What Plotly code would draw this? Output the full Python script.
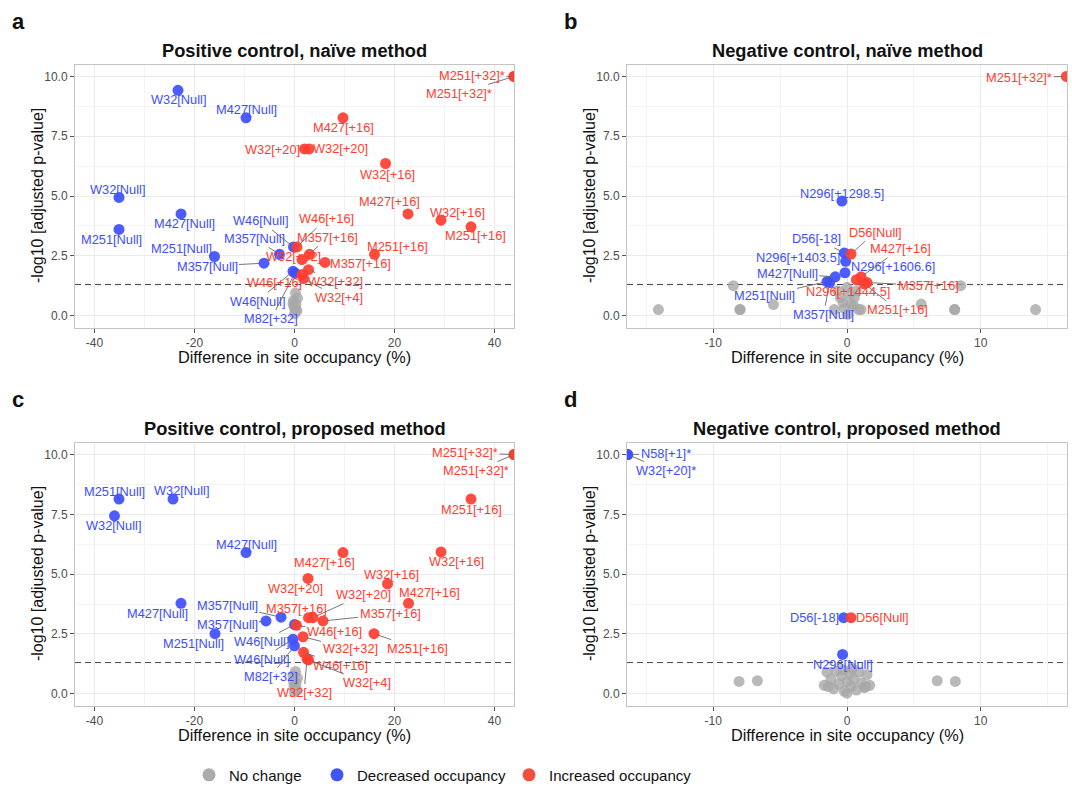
import plotly.graph_objects as go

W, H = 1072, 792

# ---------------- DATA ----------------
# Panel a: Positive control, naive method
a_gray_x = [0.2, 0.6, -0.2, 0.3, -0.1, 0.2, 0.5, -0.3, 0.0]
a_gray_y = [0.95, 0.72, 0.62, 0.45, 0.35, 0.25, 0.2, 0.5, 0.08]
a_lab = ["W32[Null]", "M427[Null]", "W32[Null]", "M427[Null]", "M251[Null]", "M251[Null]",
         "M357[Null]", "M357[Null]", "W46[Null]", "W46[Null]", "M82[+32]",
         "M251[+32]*", "M251[+32]*", "M427[+16]", "W32[+20]", "W32[+20]", "W32[+16]",
         "M427[+16]", "W32[+16]", "M251[+16]", "M251[+16]", "M357[+16]", "M357[+16]",
         "W46[+16]", "W32[+32]", "W32[+32]", "W46[+16]", "W32[+4]"]
a_x = [-23.3, -9.7, -35.1, -22.7, -35.1, -16.0, -6.1, -3.0, -0.2, -0.3, 0.1,
       43.9, 43.9, 9.7, 2.0, 2.9, 18.2, 22.7, 29.3, 35.3, 16.0, 6.1, 3.0,
       0.5, 1.5, 2.8, 1.5, 1.8]
a_y = [9.42, 8.27, 4.94, 4.25, 3.60, 2.47, 2.19, 2.56, 2.87, 1.85, 1.78,
       10.0, 10.0, 8.27, 6.97, 6.97, 6.36, 4.25, 3.99, 3.71, 2.56, 2.22, 2.56,
       2.87, 2.34, 1.92, 1.72, 1.55]
a_dir = ["D", "D", "D", "D", "D", "D", "D", "D", "D", "D", "D",
         "I", "I", "I", "I", "I", "I", "I", "I", "I", "I", "I", "I",
         "I", "I", "I", "I", "I"]

# Panel b: Negative control, naive method
b_gray_x = [-14.1, -8.5, -8.0, -8.0, -5.5, 5.55, 8.05, 8.05, 8.5, 14.1, -0.7, 0.0,
            0.55, 1.05, 0.05, -0.95, -0.3, 0.3, 0.7, 0.87, -0.5, 0.2, -0.2, 0.5]
b_gray_y = [0.25, 1.25, 0.25, 0.25, 0.46, 0.48, 0.25, 0.25, 1.25, 0.25, 1.04, 1.18,
            0.76, 0.25, 0.05, 0.25, 0.55, 0.48, 1.04, 0.25, 0.75, 0.9, 0.3, 0.4]
b_lab = ["N296[+1298.5]", "D56[-18]", "N296[+1403.5]", "N296[+1606.6]", "M427[Null]",
         "M251[Null]", "M357[Null]",
         "M251[+32]*", "D56[Null]", "M427[+16]", "N296[+1444.5]", "M357[+16]", "M251[+16]"]
b_x = [-0.38, -0.2, -0.1, -0.15, -0.88, -1.5, -1.3, 16.4, 0.3, 1.05, 0.7, 1.5, 1.3]
b_y = [4.79, 2.62, 2.27, 1.79, 1.62, 1.42, 1.38, 10.0, 2.57, 1.62, 1.5, 1.38, 1.33]
b_dir = ["D", "D", "D", "D", "D", "D", "D", "I", "I", "I", "I", "I", "I"]

# Panel c: Positive control, proposed method
c_gray_x = [0.2, 0.6, -0.2, 0.3, -0.1, 0.2, 0.5, 0.0, -0.3]
c_gray_y = [0.93, 0.65, 0.5, 0.44, 0.3, 0.23, 0.15, 0.08, 0.75]
c_lab = ["M251[Null]", "W32[Null]", "W32[Null]", "M427[Null]", "M427[Null]", "M357[Null]",
         "M357[Null]", "M251[Null]", "W46[Null]", "W46[Null]", "M82[+32]",
         "M251[+32]*", "M251[+32]*", "M251[+16]", "M427[+16]", "W32[+16]", "W32[+20]",
         "W32[+16]", "M427[+16]", "M251[+16]", "M357[+16]", "W32[+20]", "M357[+16]",
         "W46[+16]", "W32[+32]", "W46[+16]", "W32[+4]", "W32[+32]"]
c_x = [-35.1, -24.3, -36.0, -9.7, -22.7, -5.7, -2.7, -15.9, 0.0, -0.3, 0.0,
       43.9, 43.9, 35.3, 9.7, 29.3, 2.7, 18.6, 22.8, 15.9, 2.8, 3.7, 5.7,
       0.4, 1.7, 1.8, 2.8, 2.5]
c_y = [8.14, 8.14, 7.44, 5.9, 3.78, 3.04, 3.2, 2.51, 2.89, 2.28, 2.0,
       10.0, 10.0, 8.14, 5.9, 5.93, 4.82, 4.59, 3.78, 2.51, 3.18, 3.18, 3.04,
       2.86, 2.38, 1.73, 1.41, 1.45]
c_dir = ["D", "D", "D", "D", "D", "D", "D", "D", "D", "D", "D",
         "I", "I", "I", "I", "I", "I", "I", "I", "I", "I", "I", "I",
         "I", "I", "I", "I", "I"]

# Panel d: Negative control, proposed method
d_gray_x = [-8.07, -6.7, 6.75, 8.1, -1.7, -1.5, -1.2, -1.0, -0.8, -0.6, -0.4, -0.2, 0.0,
            0.0, 0.2, 0.3, 0.5, 0.7, 0.9, 1.1, 1.3, 1.5, 1.7, -0.3, 0.4, -1.4, 1.4]
d_gray_y = [0.51, 0.54, 0.54, 0.51, 0.35, 0.9, 0.6, 0.2, 0.95, 0.4, 0.75, 0.1, 0.5,
            0.02, 0.85, 0.3, 0.6, 0.15, 0.9, 0.45, 0.25, 0.8, 0.35, 1.0, 1.05, 0.3, 0.3]
d_lab = ["N58[+1]*", "W32[+20]*", "D56[-18]", "N296[Null]", "D56[Null]"]
d_x = [-16.4, -16.4, -0.25, -0.33, 0.3]
d_y = [10.0, 10.0, 3.18, 1.64, 3.18]
d_dir = ["D", "D", "D", "D", "I"]

# Tick labels / axis settings
y_ticks = [0.0, 2.5, 5.0, 7.5, 10.0]
x_ticks_pos = [-40, -20, 0, 20, 40]
x_ticks_neg = [-10, 0, 10]
sig_line = 1.3  # -log10(0.05)

# ---------------- LABEL OFFSETS (pixels, label centre relative to point) ----------------
a_dx = [0, 0, -2, 3, -8, -33, -57, -25, -33, -36, -24,
        -42, -55, 0, -32, 31, 2, -19, 16, 4, 23, 35, 18, 29, -9, 27, -28, 35]
a_dy = [9, -8, -8, 10, 10, -8, 3, -16, -26, 30, 46,
        -1, 17, 10, 1, 0, 11, -12, -8, 9, -8, 1, -17, -28, -3, 12, 8, 19]
b_dx = [0, -28, -48, 48, -48, -62, -6, -47, 24, 39, -8, 61, 33]
b_dy = [-8, -14, -4, -6, -3, 14, 32, 1, -22, -28, 12, 3, 26]
c_dx = [-5, 8, -1, 0, -24, -39, -54, -22, -33, -32, -24,
        -49, -38, 0, -19, 15, -13, 4, 21, 43, -12, 50, 67, 38, 47, 37, 58, -3]
c_dy = [-8, -9, 10, -8, 10, 4, -12, 10, 17, 20, 31,
        -2, 16, 10, 10, 10, 10, -9, -11, 15, -9, -23, -7, 6, 12, 13, 23, 34]
d_dx = [38, 38, -29, 0, 31]
d_dy = [-1, 16, 0, 10, 0]

# ---------------- STYLE ----------------
FONT = "Liberation Sans, Arial, Helvetica, sans-serif"
COL = {"N": "#A8A8A8", "D": "#3D4EFF", "I": "#FF3D30"}
LEG_COL = {"N": "#ABABAB", "D": "#3F55F5", "I": "#F2503E"}


def px2x(p):
    return p / W


def py2y(p):
    return 1 - p / H


panels = [
    dict(letter="a", title="Positive control, naïve method", xr=[-43.9, 43.9], xt=x_ticks_pos,
         minor=10, gx=a_gray_x, gy=a_gray_y, lab=a_lab, x=a_x, y=a_y, d=a_dir, dx=a_dx, dy=a_dy,
         box=(75, 514, 65, 330)),
    dict(letter="b", title="Negative control, naïve method", xr=[-16.45, 16.45], xt=x_ticks_neg,
         minor=5, gx=b_gray_x, gy=b_gray_y, lab=b_lab, x=b_x, y=b_y, d=b_dir, dx=b_dx, dy=b_dy,
         box=(627, 1067, 65, 330)),
    dict(letter="c", title="Positive control, proposed method", xr=[-43.9, 43.9], xt=x_ticks_pos,
         minor=10, gx=c_gray_x, gy=c_gray_y, lab=c_lab, x=c_x, y=c_y, d=c_dir, dx=c_dx, dy=c_dy,
         box=(75, 514, 446, 711)),
    dict(letter="d", title="Negative control, proposed method", xr=[-16.45, 16.45], xt=x_ticks_neg,
         minor=5, gx=d_gray_x, gy=d_gray_y, lab=d_lab, x=d_x, y=d_y, d=d_dir, dx=d_dx, dy=d_dy,
         box=(627, 1067, 446, 711)),
]

fig = go.Figure()
annotations = []
shapes = []
layout = {}

for i, p in enumerate(panels):
    n = i + 1
    xa = "x" if n == 1 else f"x{n}"
    ya = "y" if n == 1 else f"y{n}"
    xkey = "xaxis" if n == 1 else f"xaxis{n}"
    ykey = "yaxis" if n == 1 else f"yaxis{n}"
    l, r, t, b = p["box"]

    layout[xkey] = dict(
        domain=[px2x(l), px2x(r)], anchor=ya, range=p["xr"], type="linear",
        tickvals=p["xt"], ticktext=[str(v) for v in p["xt"]],
        showgrid=True, gridcolor="#EBEBEB", gridwidth=1,
        minor=dict(dtick=p["minor"], tick0=0, showgrid=True, gridcolor="#F4F4F4", gridwidth=0.8),
        zeroline=False, showline=True, mirror=True, linecolor="#C4C4C4", linewidth=1,
        ticks="outside", ticklen=4, tickwidth=1, tickcolor="#555555",
        tickfont=dict(family=FONT, size=12, color="#4D4D4D"), fixedrange=True,
    )
    layout[ykey] = dict(
        domain=[py2y(b), py2y(t)], anchor=xa, range=[-0.5, 10.5], type="linear",
        tickvals=y_ticks, ticktext=[f"{v:.1f}" for v in y_ticks],
        showgrid=True, gridcolor="#EBEBEB", gridwidth=1,
        minor=dict(dtick=1.25, tick0=0, showgrid=True, gridcolor="#F4F4F4", gridwidth=0.8),
        zeroline=False, showline=True, mirror=True, linecolor="#C4C4C4", linewidth=1,
        ticks="outside", ticklen=4, tickwidth=1, tickcolor="#555555",
        tickfont=dict(family=FONT, size=12, color="#4D4D4D"), fixedrange=True,
    )

    # no-change points
    fig.add_trace(go.Scatter(
        x=p["gx"], y=p["gy"], xaxis=xa, yaxis=ya, mode="markers", showlegend=False,
        marker=dict(color=COL["N"], size=11, opacity=0.8, line=dict(width=0)),
        hoverinfo="skip"))
    for cat in ["D", "I"]:
        xs = [xv for xv, dv in zip(p["x"], p["d"]) if dv == cat]
        ys = [yv for yv, dv in zip(p["y"], p["d"]) if dv == cat]
        fig.add_trace(go.Scatter(
            x=xs, y=ys, xaxis=xa, yaxis=ya, mode="markers", showlegend=False,
            marker=dict(color=COL[cat], size=11, opacity=0.92, line=dict(width=0)),
            hoverinfo="skip"))

    # repelled labels
    for lab, xv, yv, dv, ox, oy in zip(p["lab"], p["x"], p["y"], p["d"], p["dx"], p["dy"]):
        annotations.append(dict(
            x=xv, y=yv, xref=xa, yref=ya, text=lab, showarrow=True, arrowhead=0,
            arrowwidth=0.9, arrowcolor="#666666", ax=ox, ay=oy, standoff=4,
            font=dict(family=FONT, size=12.8, color=COL[dv])))

    # significance threshold
    shapes.append(dict(type="line", xref=f"{xa} domain", yref=ya, x0=0, x1=1,
                       y0=sig_line, y1=sig_line, layer="below",
                       line=dict(color="#444444", width=1, dash="6px,4px")))

    # title
    cx = (l + r) / 2
    annotations.append(dict(x=px2x(cx), y=py2y(t - 14), xref="paper", yref="paper",
                            text=f"<b>{p['title']}</b>", showarrow=False,
                            xanchor="center", yanchor="middle",
                            font=dict(family=FONT, size=18.3, color="#111111")))
    # x axis title
    annotations.append(dict(x=px2x(cx), y=py2y(b + 30), xref="paper", yref="paper",
                            text="Difference in site occupancy (%)", showarrow=False,
                            xanchor="center", yanchor="middle",
                            font=dict(family=FONT, size=16.3, color="#111111")))
    # y axis title
    annotations.append(dict(x=px2x(l - 38), y=py2y((t + b) / 2), xref="paper", yref="paper",
                            text="-log10 [adjusted p-value]", showarrow=False, textangle=-90,
                            xanchor="center", yanchor="middle",
                            font=dict(family=FONT, size=16, color="#111111")))
    # panel letter
    annotations.append(dict(x=px2x(l - 57), y=py2y(t - 43), xref="paper", yref="paper",
                            text=f"<b>{p['letter']}</b>", showarrow=False,
                            xanchor="center", yanchor="middle",
                            font=dict(family=FONT, size=22, color="#111111")))

# legends (three independent legends to match the spacing)
leg_names = ["No change", "Decreased occupancy", "Increased occupancy"]
leg_keys = ["N", "D", "I"]
leg_ids = ["legend", "legend2", "legend3"]
leg_x = [189, 317, 509]
for name, key, lid, lx in zip(leg_names, leg_keys, leg_ids, leg_x):
    fig.add_trace(go.Scatter(x=[None], y=[None], xaxis="x", yaxis="y", mode="markers",
                             name=name, legend=lid, showlegend=True,
                             marker=dict(color=LEG_COL[key], size=13)))
    layout[lid] = dict(x=px2x(lx), y=py2y(781), xanchor="left", yanchor="middle",
                       orientation="h", bgcolor="rgba(0,0,0,0)", borderwidth=0,
                       font=dict(family=FONT, size=15, color="#111111"),
                       itemsizing="trace")

fig.update_layout(
    width=W, height=H, margin=dict(l=0, r=0, t=0, b=0),
    paper_bgcolor="white", plot_bgcolor="white",
    annotations=annotations, shapes=shapes, **layout,
)

# remove the default page margin so the 1072x792 figure fills the window exactly
fig.write_html("out.html", config={"displayModeBar": False},
               post_script="document.body.style.margin='0';document.body.style.overflow='hidden';")
